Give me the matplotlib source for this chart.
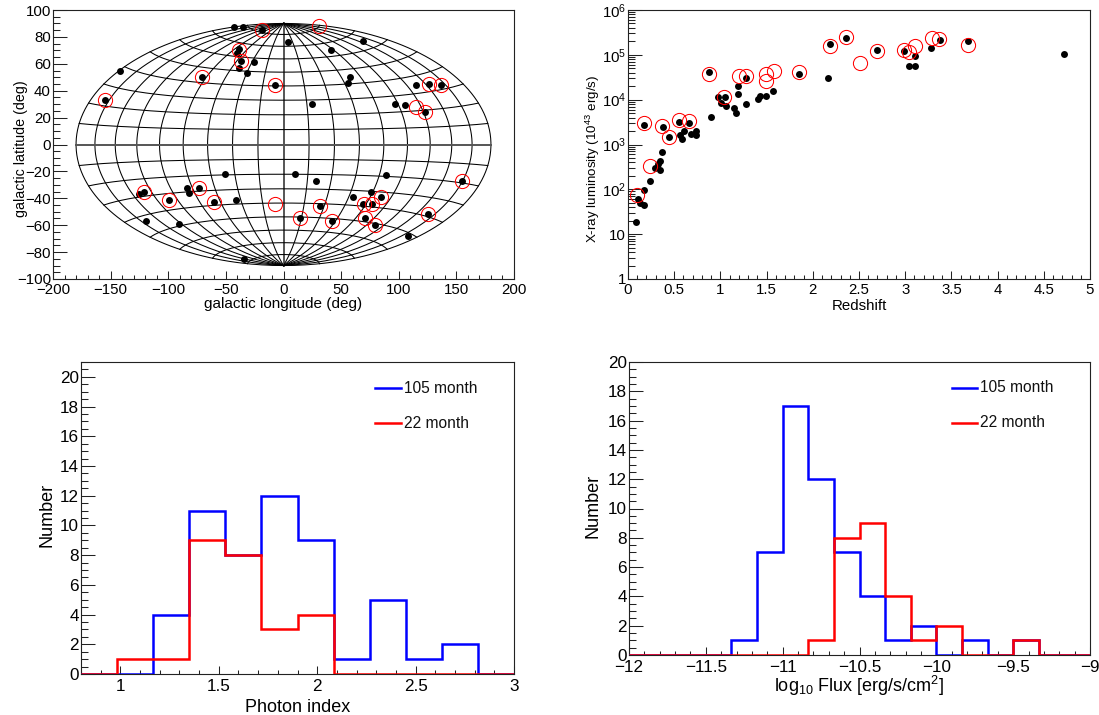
import numpy as np
import matplotlib
matplotlib.use('Agg')
import matplotlib.pyplot as plt
from matplotlib.ticker import FixedLocator, MultipleLocator, LogLocator, NullFormatter, FuncFormatter

plt.rcParams['font.family'] = ['Liberation Sans', 'DejaVu Sans']
plt.rcParams['mathtext.default'] = 'regular'

# sky map, positions as read on the plot axes
sky_black_x = [-43, -35, -19, -38.5, -40, -37, -39, -26, -32, -71, -7.5, -142, -155, 3.5,
               41, 69, 58, 56, 25, 97, 105, 115, 126, 137, 123,
               -51, -73, -84, -82, -121, -125, -99, -60, -41, -119, -91, -34,
               10, 28, 89, 155, 60, 76, 85, 69, 77, 32, 14, 42, 71, 79, 125, 108]
sky_black_y = [87, 87, 85, 71, 68, 62, 57, 61, 53, 50, 44, 55, 33, 76,
               70, 77, 50, 46, 30, 30, 29, 44, 45, 44, 24,
               -22, -32, -32, -36, -35, -37, -41, -43, -41, -57, -59, -85,
               -22, -27, -23, -27, -39, -35, -39, -44, -44, -46, -55, -57, -55, -60, -52, -68]
sky_red_x = [-19, -38.5, -37, -71, -7.5, -155, 31, 126, 137, 115, 123,
             -121, -99, -73, -60, -7,
             155, 85, 70, 77, 32, 14, 42, 71, 79, 125]
sky_red_y = [85, 70, 62, 50, 44, 33, 88, 45, 44, 28, 24,
             -35, -41, -32, -43, -44,
             -27, -39, -44, -44, -46, -55, -57, -55, -60, -52]
grid_lon = [-180, -160, -140, -120, -100, -80, -60, -40, -20, 0, 20, 40, 60, 80, 100, 120, 140, 160, 180]
grid_lat = [-80, -70, -60, -50, -40, -30, -20, -10, 0, 10, 20, 30, 40, 50, 60, 70, 80]

# redshift and log10 of luminosity in 1e43 erg/s
z_black = [.087, .103, .135, .168, .168, .238, .289, .341, .328, .35, .365, .447, .173, .376, .549, .663,
           .563, .588, .609, .679, .736, .736, .873, .895, .979, 1.05, 1.003, 1.064, 1.15, 1.172, 1.194,
           1.194, 1.274, 1.274, 1.41, 1.429, 1.49, 1.569, 1.854, 2.161, 2.183, 2.356, 2.698, 2.99, 3.109,
           3.041, 3.109, 3.279, 3.373, 3.676, 4.719]
logl_black = [1.265, 1.778, 1.695, 1.64, 1.974, 2.18, 2.483, 2.431, 2.559, 2.643, 2.833, 3.168, 3.435, 3.384,
              3.509, 3.48, 3.212, 3.116, 3.301, 3.228, 3.301, 3.205, 4.611, 3.62, 4.067, 4.067, 3.919, 3.866,
              3.821, 3.71, 4.127, 4.312, 4.49, 3.91, 4.015, 4.089, 4.075, 4.2, 4.573, 4.477, 5.235, 5.376,
              5.108, 5.086, 4.974, 4.745, 4.758, 5.146, 5.325, 5.309, 5.019]
z_red = [.101, .238, .173, .371, .447, .549, .657, .873, 1.039, 1.205, 1.274, 1.494, 1.494, 1.575, 1.851,
         2.183, 2.359, 2.511, 2.698, 2.987, 3.041, 3.109, 3.287, 3.369, 3.676]
logl_red = [1.874, 2.514, 3.473, 3.413, 3.174, 3.553, 3.524, 4.573, 4.067, 4.535, 4.535, 4.573, 4.412, 4.629,
            4.617, 5.204, 5.405, 4.818, 5.092, 5.115, 5.057, 5.197, 5.376, 5.354, 5.226]

# histograms
index_105 = [0, 0, 4, 11, 8, 12, 9, 1, 5, 1, 2, 0]
index_22 = [0, 1, 1, 9, 8, 3, 4, 0, 0, 0, 0, 0]
flux_105 = [0, 0, 0, 0, 1, 7, 17, 12, 7, 4, 1, 2, 0, 1, 0, 1, 0, 0]
flux_22 = [0, 0, 0, 0, 0, 0, 0, 1, 8, 9, 4, 1, 2, 0, 0, 1, 0, 0]

W, H = 1099, 715
TICK_SMALL = 10.8
TICK_BIG = 12.3


def make_axes(fig, left, top, right, bottom):
    ax = fig.add_axes([left / W, 1 - bottom / H, (right - left) / W, (bottom - top) / H])
    ax.tick_params(which='both', direction='in', top=False, right=False, width=0.75, color='#222222')
    for s in ax.spines.values():
        s.set_linewidth(0.8)
        s.set_color('#222222')
    return ax


def set_ticks(ax, size, xmaj, xmin, ymaj=None, ymin=None, xpad=3.5):
    ax.xaxis.set_major_locator(MultipleLocator(xmaj))
    ax.xaxis.set_minor_locator(MultipleLocator(xmin))
    if ymaj:
        ax.yaxis.set_major_locator(MultipleLocator(ymaj))
        ax.yaxis.set_minor_locator(MultipleLocator(ymin))
    ax.xaxis.set_major_formatter(FuncFormatter(lambda v, p: ('%g' % round(v, 3)).replace('-', '\u2212')))
    ax.tick_params(axis='x', which='major', length=6, labelsize=size, pad=xpad)
    ax.tick_params(axis='x', which='minor', length=3)
    ax.tick_params(axis='y', which='major', length=10, labelsize=size, pad=1.5)
    ax.tick_params(axis='y', which='minor', length=5)


def hammer(lon, lat):
    lam = np.radians(lon) / 2
    phi = np.radians(lat)
    d = np.sqrt(1 + np.cos(phi) * np.cos(lam))
    return 180 * np.cos(phi) * np.sin(lam) / d, 90 * np.sin(phi) / d


def hist_panel(ax, edges, blue, red, lx0, lx1, tx, size=11.2):
    ax.stairs(blue, edges, color='#0000ff', linewidth=1.8, zorder=3)
    ax.stairs(red, edges, color='#ff0000', linewidth=1.8, zorder=4)
    for y, c, name in [(388, '#0000ff', '105 month'), (423, '#ff0000', '22 month')]:
        fy = 1 - (y - 362) / (ax.bbox.height)
        ax.plot([lx0, lx1], [fy, fy], color=c, linewidth=1.8, transform=ax.transAxes)
        ax.text(tx, fy, name, transform=ax.transAxes, fontsize=size, va='center', ha='left', color='#111111')


fig = plt.figure(figsize=(W / 100, H / 100), dpi=100)

# top left, sky map
ax = make_axes(fig, 53, 10, 514, 279)
ax.set_xlim(-200, 200)
ax.set_ylim(-100, 100)
set_ticks(ax, TICK_SMALL, 50, 10, 20, 5, xpad=3)
ax.set_xticks([-200, -150, -100, -50, 0, 50, 100, 150, 200])
for lon in grid_lon:
    gx, gy = hammer(lon, np.linspace(-90, 90, 181))
    if lon == 0:
        ax.plot(gx, gy, color='#555555', linewidth=1.4, zorder=1)
    else:
        ax.plot(gx, gy, color='black', linewidth=0.75, zorder=1)
for lat in grid_lat:
    gx, gy = hammer(np.linspace(-180, 180, 181), lat)
    if lat == 0:
        ax.plot(gx, gy, color='#555555', linewidth=1.4, zorder=1)
    else:
        ax.plot(gx, gy, color='black', linewidth=0.75, zorder=1)
ax.plot(sky_black_x, sky_black_y, 'o', color='black', markersize=5, markeredgewidth=0, zorder=3)
ax.plot(sky_red_x, sky_red_y, 'o', mfc='none', mec='#ff0000', markersize=10.2, markeredgewidth=0.75, zorder=4)
ax.set_xlabel('galactic longitude (deg)', fontsize=11)
ax.set_ylabel('galactic latitude (deg)', fontsize=10.3)
ax.xaxis.set_label_coords(0.5, -0.068, ax.transAxes)
ax.yaxis.set_label_coords(-0.055, 0.485, ax.transAxes)

# top right, luminosity against redshift
ax = make_axes(fig, 628, 10, 1090, 279)
ax.set_yscale('log')
ax.set_xlim(0, 5)
ax.set_ylim(1, 1e6)
set_ticks(ax, TICK_SMALL, 0.5, 0.1, xpad=3)
ax.yaxis.set_major_locator(FixedLocator([1, 10, 100, 1e3, 1e4, 1e5, 1e6]))
ax.yaxis.set_major_formatter(FuncFormatter(
    lambda v, p: {1: '1', 10: '10'}.get(round(v), '$10^{%d}$' % round(np.log10(v)))))
ax.yaxis.set_minor_locator(LogLocator(base=10, subs=[2, 3, 4, 5, 6, 7, 8, 9], numticks=12))
ax.yaxis.set_minor_formatter(NullFormatter())
ax.plot(z_black, 10 ** np.array(logl_black), 'o', color='black', markersize=5, markeredgewidth=0, zorder=3)
ax.plot(z_red, 10 ** np.array(logl_red), 'o', mfc='none', mec='#ff0000', markersize=10.2,
        markeredgewidth=0.75, zorder=4)
ax.set_xlabel('Redshift', fontsize=10.8)
ax.set_ylabel('X-ray luminosity (10$^{43}$ erg/s)', fontsize=9.6)
ax.xaxis.set_label_coords(0.5, -0.073, ax.transAxes)
ax.yaxis.set_label_coords(-0.056, 0.445, ax.transAxes)

# bottom left, photon index
ax = make_axes(fig, 81, 362, 514, 674)
index_edges = np.linspace(0.8, 3, len(index_105) + 1)
ax.set_xlim(0.8, 3)
ax.set_ylim(0, 21)
set_ticks(ax, TICK_BIG, 0.5, 0.1, 2, 0.5)
ax.yaxis.set_major_locator(FixedLocator(list(range(0, 21, 2))))
hist_panel(ax, index_edges, index_105, index_22, 0.68, 0.738, 0.745)
ax.set_xlabel('Photon index', fontsize=13)
ax.set_ylabel('Number', fontsize=13)
ax.xaxis.set_label_coords(0.5, -0.08, ax.transAxes)
ax.yaxis.set_label_coords(-0.06, 0.51, ax.transAxes)

# bottom right, flux
ax = make_axes(fig, 629, 362, 1090, 655)
flux_edges = np.linspace(-12, -9, len(flux_105) + 1)
ax.set_xlim(-12, -9)
ax.set_ylim(0, 20)
set_ticks(ax, TICK_BIG, 0.5, 0.1, 2, 0.5)
hist_panel(ax, flux_edges, flux_105, flux_22, 0.7, 0.755, 0.762)
ax.set_xlabel('log$_{10}$ Flux [erg/s/cm$^{2}$]', fontsize=13)
ax.set_ylabel('Number', fontsize=13)
ax.xaxis.set_label_coords(0.5, -0.065, ax.transAxes)
ax.yaxis.set_label_coords(-0.06, 0.51, ax.transAxes)

fig.savefig('out.png', dpi=100)
